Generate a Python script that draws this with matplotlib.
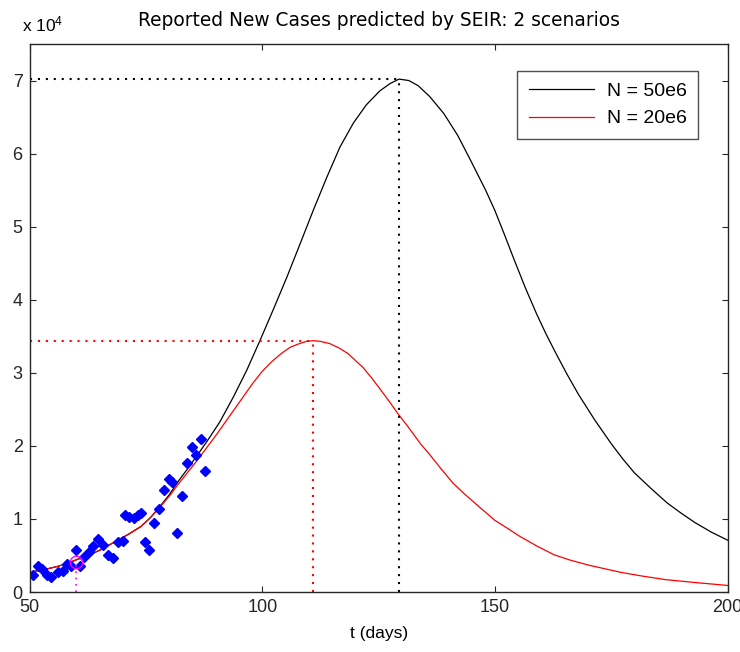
import numpy as np
import matplotlib
matplotlib.use("Agg")
import matplotlib.pyplot as plt

plt.rcParams['font.family'] = ['Liberation Sans', 'DejaVu Sans']
plt.rcParams['mathtext.default'] = 'regular'

# values in units of 10^4 reported new cases
days_50e6 = [50, 52, 54, 56, 58, 60, 62.5, 65, 67, 69, 71.5, 74, 76, 78, 80, 82, 84, 86,
             88, 90.9, 93.8, 96.7, 99.5, 102.4, 105.3, 108.1, 111, 113.9, 116.7, 119.6,
             122.4, 125.3, 127.5, 129.4, 131.5, 133.5, 136, 139, 142, 145, 148, 150, 152,
             154, 156.5, 159, 161, 163, 165.5, 168, 171.5, 175, 177.5, 180, 183.5, 187,
             190, 193, 196.5, 200]
cases_50e6 = [0.26, 0.30, 0.32, 0.35, 0.39, 0.44, 0.50, 0.57, 0.64, 0.71, 0.80, 0.90, 1.02,
              1.17, 1.33, 1.52, 1.69, 1.87, 2.05, 2.33, 2.67, 3.04, 3.44, 3.87, 4.31, 4.76,
              5.23, 5.68, 6.09, 6.42, 6.67, 6.86, 6.96, 7.02, 7.00, 6.93, 6.78, 6.55, 6.25,
              5.88, 5.50, 5.22, 4.90, 4.57, 4.17, 3.80, 3.53, 3.28, 2.98, 2.70, 2.35, 2.03,
              1.82, 1.63, 1.42, 1.22, 1.08, 0.95, 0.82, 0.71]

days_20e6 = [50, 52, 54, 56, 58, 60, 62.5, 65, 67, 69, 71.5, 74, 76, 78, 80, 82, 84, 86, 88,
             90, 92, 94, 96, 98, 100, 102, 104, 106, 108, 109.5, 111, 112.5, 114.5, 116.5,
             118.5, 120, 121.7, 123.5, 125.3, 127.5, 129.4, 131, 132.5, 134, 136, 138.5,
             141, 143.5, 146, 148, 150, 152.5, 155.4, 159, 162.7, 166, 170, 173.5, 177,
             181.5, 186.6, 193, 200]
cases_20e6 = [0.26, 0.30, 0.32, 0.35, 0.39, 0.44, 0.50, 0.57, 0.64, 0.71, 0.80, 0.90, 1.02,
              1.16, 1.31, 1.48, 1.64, 1.80, 1.97, 2.14, 2.32, 2.50, 2.68, 2.86, 3.02, 3.15,
              3.26, 3.35, 3.40, 3.43, 3.44, 3.43, 3.40, 3.34, 3.26, 3.17, 3.07, 2.93, 2.78,
              2.59, 2.42, 2.29, 2.16, 2.03, 1.88, 1.68, 1.49, 1.34, 1.20, 1.09, 0.98, 0.88,
              0.76, 0.63, 0.51, 0.44, 0.37, 0.32, 0.27, 0.22, 0.17, 0.13, 0.09]

# reported data
obs_days = [50.7, 51.9, 52.6, 53.7, 54.7, 56.2, 57.1, 58.0, 59.0, 60.0, 60.8, 61.7, 62.8,
            63.7, 64.8, 65.7, 66.9, 67.9, 69.1, 70.0, 70.5, 71.4, 72.4, 73.4, 73.9, 74.8,
            75.7, 76.8, 77.8, 78.9, 80.0, 80.6, 81.6, 82.7, 83.8, 84.8, 85.8, 86.8, 87.8]
obs_cases = [0.23, 0.35, 0.31, 0.23, 0.20, 0.28, 0.29, 0.38, 0.35, 0.57, 0.35, 0.48, 0.55,
             0.63, 0.72, 0.64, 0.50, 0.47, 0.68, 0.70, 1.05, 1.02, 1.01, 1.05, 1.08, 0.68,
             0.57, 0.95, 1.14, 1.40, 1.54, 1.51, 0.81, 1.31, 1.76, 1.99, 1.87, 2.09, 1.66]

peak_50e6 = (129.4, 7.02)
peak_20e6 = (111.0, 3.44)
marker_day = (60.0, 0.41)

fig = plt.figure(figsize=(7.4, 6.52), dpi=100)
ax = fig.add_axes([0.04, 0.092, 0.9432, 0.8405])

ax.plot(days_50e6, cases_50e6, color='black', lw=0.9, label='N = 50e6')
ax.plot(days_20e6, cases_20e6, color='#ff0000', lw=0.9, label='N = 20e6')
ax.plot(obs_days, obs_cases, 'D', color='blue', ms=5.4, mec='blue')

dot = (0, (1, 2.8))
ax.plot([50, peak_50e6[0]], [peak_50e6[1]] * 2, color='black', lw=1.5, ls=dot)
ax.plot([peak_50e6[0]] * 2, [0, peak_50e6[1]], color='black', lw=1.5, ls=dot)
ax.plot([50, peak_20e6[0]], [peak_20e6[1]] * 2, color='#ff0000', lw=1.5, ls=dot)
ax.plot([peak_20e6[0]] * 2, [0, peak_20e6[1]], color='#ff0000', lw=1.5, ls=dot)

ax.plot([marker_day[0]] * 2, [0, marker_day[1]], color='#ff00ff', lw=1.2, ls=dot)
ax.plot(marker_day[0], marker_day[1], 'o', mfc='none', mec='#ff00ff', ms=9, mew=1)

ax.set_xlim(50, 200)
ax.set_ylim(0, 7.5)
ax.set_xticks([50, 100, 150, 200])
ax.set_yticks(range(0, 8))
ax.tick_params(direction='in', length=4, width=0.8, top=True, right=True,
               labelsize=13, pad=5, colors='#262626')
for s in ax.spines.values():
    s.set_color('#262626')
    s.set_linewidth(1.0)

ax.set_xlabel('t (days)', fontsize=12.5, labelpad=7)
ax.set_title('Reported New Cases predicted by SEIR: 2 scenarios', fontsize=13.4,
             family=['DejaVu Sans'], pad=13)
fig.text(0.03, 0.952, r'x 10$^{4}$', fontsize=12.5, ha='left', va='baseline')

leg = ax.legend(loc='upper right', bbox_to_anchor=(0.958, 0.951), borderaxespad=0,
                fontsize=14, handlelength=3.35, frameon=True, fancybox=False,
                edgecolor='#262626', borderpad=0.6, labelspacing=0.5, handletextpad=0.67)
leg.get_frame().set_linewidth(1.0)

fig.savefig('out.png', dpi=100)
